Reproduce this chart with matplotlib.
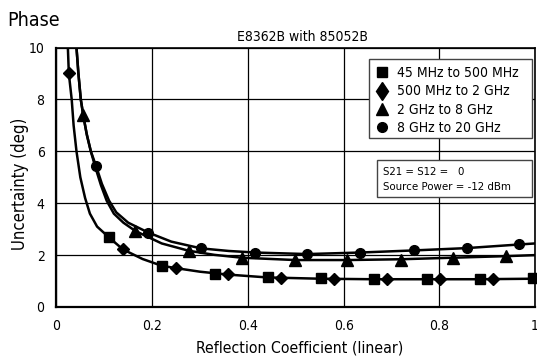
import matplotlib.pyplot as plt
from matplotlib.lines import Line2D
from matplotlib.patches import Rectangle

plt.rcParams['font.family'] = ['DejaVu Sans']
plt.rcParams['font.stretch'] = 'condensed'

# marker positions
sq_x = [0.11, 0.22, 0.332, 0.441, 0.552, 0.664, 0.774, 0.884, 0.995]
sq_y = [2.68, 1.59, 1.26, 1.14, 1.10, 1.08, 1.07, 1.08, 1.10]
dm_x = [0.026, 0.139, 0.249, 0.358, 0.469, 0.58, 0.691, 0.802, 0.912]
dm_y = [9.01, 2.22, 1.50, 1.26, 1.13, 1.07, 1.07, 1.07, 1.07]
tr_x = [0.056, 0.165, 0.276, 0.387, 0.499, 0.608, 0.719, 0.828, 0.939]
tr_y = [7.40, 2.93, 2.17, 1.90, 1.81, 1.81, 1.83, 1.90, 1.96]
ci_x = [0.083, 0.192, 0.302, 0.414, 0.524, 0.635, 0.746, 0.857, 0.967]
ci_y = [5.43, 2.87, 2.26, 2.10, 2.04, 2.10, 2.18, 2.27, 2.41]

# traced curves
low_x = [0.024, 0.026, 0.032, 0.036, 0.042, 0.050, 0.060, 0.070, 0.085, 0.11, 0.139,
         0.18, 0.22, 0.249, 0.30, 0.358, 0.44, 0.55, 0.66, 0.77, 0.88, 1.0]
low_y = [10.0, 9.0, 8.0, 7.0, 6.0, 5.0, 4.2, 3.6, 3.1, 2.68, 2.22,
         1.85, 1.59, 1.50, 1.36, 1.25, 1.14, 1.09, 1.07, 1.07, 1.07, 1.09]
tri_cx = [0.042, 0.046, 0.051, 0.056, 0.063, 0.072, 0.082, 0.093, 0.105, 0.12, 0.14, 0.165,
          0.22, 0.276, 0.33, 0.387, 0.499, 0.608, 0.719, 0.828, 0.939, 1.0]
tri_cy = [10.0, 9.0, 8.0, 7.4, 6.7, 6.0, 5.35, 4.7, 4.1, 3.6, 3.25, 2.93,
          2.45, 2.17, 2.01, 1.90, 1.81, 1.81, 1.84, 1.90, 1.96, 2.00]
cir_cx = [0.042, 0.046, 0.051, 0.057, 0.064, 0.072, 0.083, 0.095, 0.11, 0.125, 0.15, 0.192,
          0.24, 0.302, 0.36, 0.414, 0.524, 0.635, 0.746, 0.857, 0.967, 1.0]
cir_cy = [10.0, 9.0, 8.0, 7.3, 6.6, 6.0, 5.43, 4.75, 4.1, 3.65, 3.25, 2.87,
          2.52, 2.26, 2.16, 2.10, 2.04, 2.10, 2.18, 2.27, 2.41, 2.45]

labels = ['45 MHz to 500 MHz', '500 MHz to 2 GHz', '2 GHz to 8 GHz', '8 GHz to 20 GHz']
markers = ['s', 'D', '^', 'o']
msizes = [6.5, 6.0, 8.0, 7.0]
leg_markers = ['s', 'd', '^', 'o']
leg_sizes = [6.5, 9.5, 8.0, 7.0]

fig = plt.figure(figsize=(5.37, 3.58), dpi=100)
ax = fig.add_axes([0.105, 0.1425, 0.8915, 0.7245])

lw = 1.8
ax.plot(low_x, low_y, color='black', lw=lw, zorder=3)
ax.plot(tri_cx, tri_cy, color='black', lw=lw, zorder=3)
ax.plot(cir_cx, cir_cy, color='black', lw=lw, zorder=3)

pts = [(sq_x, sq_y), (dm_x, dm_y), (tr_x, tr_y), (ci_x, ci_y)]
for (px, py), m, ms in zip(pts, markers, msizes):
    ax.plot(px, py, linestyle='none', marker=m, ms=ms, color='black', zorder=4, clip_on=False)

ax.set_xlim(0, 1)
ax.set_ylim(0, 10)
ax.set_xticks([0, 0.2, 0.4, 0.6, 0.8, 1])
ax.set_xticklabels(['0', '0.2', '0.4', '0.6', '0.8', '1'])
ax.set_yticks([0, 2, 4, 6, 8, 10])
ax.grid(True, color='black', lw=0.9)
ax.set_axisbelow(True)
ax.tick_params(length=0, labelsize=10, pad=8.5)
for s in ax.spines.values():
    s.set_linewidth(1.2)
ax.spines['left'].set_linewidth(1.6)
ax.spines['bottom'].set_linewidth(1.6)

ax.set_xlabel('Reflection Coefficient (linear)', fontsize=11.3)
ax.xaxis.set_label_coords(0.508, -0.128)
ax.set_ylabel('Uncertainty (deg)', fontsize=12)
ax.yaxis.set_label_coords(-0.058, 0.476)

fig.text(0.013, 0.928, 'Phase', fontsize=14, ha='left', va='baseline')
ax.text(0.515, 1.027, 'E8362B with 85052B', transform=ax.transAxes,
        fontsize=10, ha='center', va='baseline')

# legend box
ax.add_patch(Rectangle((0.652, 0.650), 0.341, 0.306, transform=ax.transAxes,
                       facecolor='white', edgecolor='#444444', lw=1.0, zorder=5))
handles = [Line2D([], [], linestyle='none', marker=m, ms=ms, color='black')
           for m, ms in zip(leg_markers, leg_sizes)]
leg = ax.legend(handles, labels, loc='upper left', bbox_to_anchor=(0.665, 0.928),
                frameon=False, fontsize=10, handlelength=1.0, handletextpad=0.6,
                labelspacing=0.3, borderaxespad=0, borderpad=0)
leg.set_zorder(6)

# conditions box
ax.add_patch(Rectangle((0.669, 0.4227), 0.324, 0.1438, transform=ax.transAxes,
                       facecolor='white', edgecolor='#444444', lw=1.0, zorder=5))
ax.text(0.682, 0.521, 'S21 = S12 =   0', transform=ax.transAxes, fontsize=8.2,
        ha='left', va='center', zorder=6)
ax.text(0.682, 0.4636, 'Source Power = -12 dBm', transform=ax.transAxes, fontsize=8.2,
        ha='left', va='center', zorder=6)

fig.savefig('out.png', dpi=100)
